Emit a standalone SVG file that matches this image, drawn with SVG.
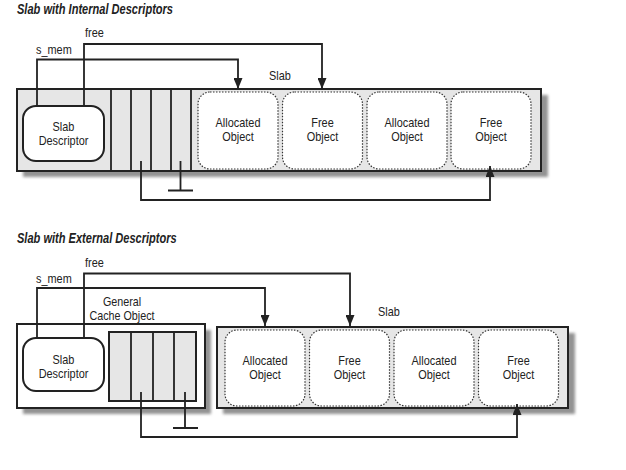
<svg xmlns="http://www.w3.org/2000/svg" width="626" height="470" viewBox="0 0 626 470">
<style>
text{font-family:"Liberation Sans",Arial,sans-serif;font-size:13px;fill:#222;text-anchor:middle}
.ttl{font-weight:bold;font-style:italic;text-anchor:start;font-size:14px}
.lft{text-anchor:start}
.sm{font-size:12.5px}
.box{fill:#e6e6e6;stroke:#222;stroke-width:2}
.wbox{fill:#fff;stroke:#222;stroke-width:2}
.desc{fill:#fff;stroke:#222;stroke-width:2}
.obj{fill:#fff;stroke:#333;stroke-width:1.2;stroke-dasharray:1.5 1.5}
.cell{stroke:#222;stroke-width:1.8;fill:none}
.shadow{fill:#939393;filter:url(#blur)}
.conn path{fill:none;stroke:#222;stroke-width:1.8}
</style>
<defs>
<filter id="blur" x="-5%" y="-10%" width="110%" height="120%"><feGaussianBlur stdDeviation="1.5"/></filter>
<marker id="arr" viewBox="0 0 11 9" refX="11" refY="4.5" markerWidth="6.1" markerHeight="5" orient="auto" markerUnits="strokeWidth"><path d="M0 0 L11 4.5 L0 9 z" fill="#222"/></marker>
</defs>

<!-- Titles -->
<text class="ttl" transform="translate(17,14) scale(0.79,1)">Slab with Internal Descriptors</text>
<text class="ttl" transform="translate(17,243) scale(0.79,1)">Slab with External Descriptors</text>

<!-- ============ Diagram 1 ============ -->
<g id="slab1">
<rect class="shadow" x="23" y="95" width="525" height="82"/>
<rect class="box" x="17" y="89" width="524" height="82"/>
<path class="cell" d="M111 89V171M131 89V171M151 89V171M171 89V171M191 89V171"/>
<text transform="translate(280,80) scale(0.84,1)">Slab</text>
</g>
<g id="desc1">
<rect class="desc" x="23" y="106" width="81" height="55" rx="13"/>
<text transform="translate(63.5,131) scale(0.84,1)">Slab</text>
<text transform="translate(63.5,145) scale(0.84,1)">Descriptor</text>
</g>
<g id="obj1a">
<rect class="obj" x="198" y="92" width="80" height="77" rx="12"/>
<text transform="translate(238,127) scale(0.84,1)">Allocated</text>
<text transform="translate(238,141) scale(0.84,1)">Object</text>
</g>
<g id="obj1b">
<rect class="obj" x="282.5" y="92" width="80" height="77" rx="12"/>
<text transform="translate(322.5,127) scale(0.84,1)">Free</text>
<text transform="translate(322.5,141) scale(0.84,1)">Object</text>
</g>
<g id="obj1c">
<rect class="obj" x="367" y="92" width="80" height="77" rx="12"/>
<text transform="translate(407,127) scale(0.84,1)">Allocated</text>
<text transform="translate(407,141) scale(0.84,1)">Object</text>
</g>
<g id="obj1d">
<rect class="obj" x="451" y="92" width="80" height="77" rx="12"/>
<text transform="translate(491,127) scale(0.84,1)">Free</text>
<text transform="translate(491,141) scale(0.84,1)">Object</text>
</g>
<text class="lft" transform="translate(85,37) scale(0.84,1)">free</text>
<text class="lft" transform="translate(36,54) scale(0.84,1)">s_mem</text>

<g id="connectors1" class="conn">
<path d="M84 106V44H322V89" marker-end="url(#arr)"/>
<path d="M37 106V59.5H238V89" marker-end="url(#arr)"/>
<path d="M141 161V200H490V166" marker-end="url(#arr)"/>
<path d="M180.5 161V190.5M168 190.5H193"/>
</g>

<!-- ============ Diagram 2 ============ -->
<g id="cache2">
<rect class="shadow" x="23" y="330" width="188" height="84"/>
<rect class="wbox" x="17" y="324" width="188" height="84"/>
<rect class="box" x="109" y="332" width="87" height="69"/>
<path class="cell" d="M131 332V401M153 332V401M174 332V401"/>
<text class="sm" transform="translate(122,306) scale(0.86,1)">General</text>
<text class="sm" transform="translate(122,320) scale(0.86,1)">Cache Object</text>
</g>
<g id="desc2">
<rect class="desc" x="23" y="338" width="81" height="53" rx="13"/>
<text transform="translate(63.5,364) scale(0.84,1)">Slab</text>
<text transform="translate(63.5,378) scale(0.84,1)">Descriptor</text>
</g>
<g id="slab2">
<rect class="shadow" x="223" y="333" width="352" height="81"/>
<rect class="box" x="217" y="327" width="351" height="81"/>
<text transform="translate(389,316) scale(0.84,1)">Slab</text>
</g>
<g id="obj2a">
<rect class="obj" x="225" y="330" width="80" height="76" rx="12"/>
<text transform="translate(265,365) scale(0.84,1)">Allocated</text>
<text transform="translate(265,379) scale(0.84,1)">Object</text>
</g>
<g id="obj2b">
<rect class="obj" x="309.5" y="330" width="80" height="76" rx="12"/>
<text transform="translate(349.5,365) scale(0.84,1)">Free</text>
<text transform="translate(349.5,379) scale(0.84,1)">Object</text>
</g>
<g id="obj2c">
<rect class="obj" x="394" y="330" width="80" height="76" rx="12"/>
<text transform="translate(434,365) scale(0.84,1)">Allocated</text>
<text transform="translate(434,379) scale(0.84,1)">Object</text>
</g>
<g id="obj2d">
<rect class="obj" x="478.5" y="330" width="80" height="76" rx="12"/>
<text transform="translate(518.5,365) scale(0.84,1)">Free</text>
<text transform="translate(518.5,379) scale(0.84,1)">Object</text>
</g>
<text class="lft" transform="translate(85,267) scale(0.84,1)">free</text>
<text class="lft" transform="translate(36,283) scale(0.84,1)">s_mem</text>

<g id="connectors2" class="conn">
<path d="M84 338V273.5H350V326" marker-end="url(#arr)"/>
<path d="M37 338V288H265V326" marker-end="url(#arr)"/>
<path d="M141 392V437H517V404" marker-end="url(#arr)"/>
<path d="M185 392V428M173 428H198"/>
</g>
</svg>
